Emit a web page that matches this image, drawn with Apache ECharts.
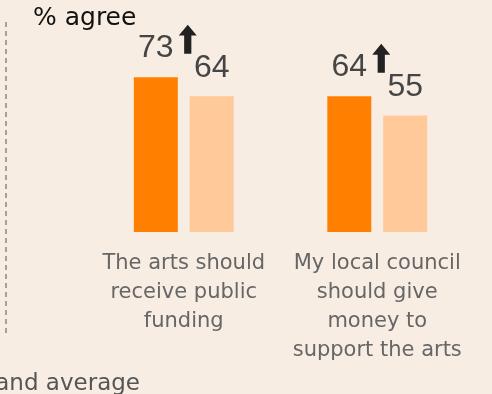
<!DOCTYPE html>
<html>
<head>
<meta charset="utf-8">
<script src="https://cdn.jsdelivr.net/npm/echarts@6/dist/echarts.min.js"></script>
<style>
  html, body { margin: 0; padding: 0; background: #f8ede3; }
  #chart { width: 492px; height: 394px; }
</style>
</head>
<body>
<div id="chart"></div>
<script>
// 数据
const categories = [
  'The arts should\nreceive public\nfunding',
  'My local council\nshould give\nmoney to\nsupport the arts'
];
const localValues = [73, 64];
const averageValues = [64, 55];
const significantUp = [true, true];

const FONT = 'DejaVu Sans';
const NUM_FONT = 'Liberation Sans';

const myChart = echarts.init(document.getElementById('chart'));

const arrowPath = 'path://M5,0 L10,6 L7,6 L7,16 L3,16 L3,6 L0,6 Z';

const option = {
  backgroundColor: '#f8ede3',
  animation: false,
  grid: { left: 87, right: 18, top: 20, bottom: 162 },
  graphic: [
    {
      type: 'line',
      shape: { x1: 6, y1: 22, x2: 6, y2: 335 },
      style: { stroke: '#a2a2a2', lineWidth: 2, lineDash: [5, 4] }
    },
    {
      type: 'text',
      left: 33, top: 6,
      style: { text: '% agree', font: '25px ' + FONT, fill: '#111111' }
    },
    {
      type: 'text',
      right: 352, top: 373,
      style: { text: 'England average', font: '23px ' + FONT, fill: '#555555' }
    }
  ],
  xAxis: {
    type: 'category',
    data: categories,
    axisLine: { show: false },
    axisTick: { show: false },
    axisLabel: {
      interval: 0,
      margin: 17,
      fontFamily: FONT,
      fontSize: 21,
      lineHeight: 29,
      color: '#666666',
      align: 'center'
    }
  },
  yAxis: {
    type: 'value',
    min: 0, max: 100,
    show: false,
    splitLine: { show: false }
  },
  series: [
    {
      type: 'bar',
      data: localValues,
      barWidth: 44,
      barGap: '27%',
      itemStyle: { color: '#ff8000' },
      label: {
        show: true, position: 'top', distance: 13,
        fontFamily: NUM_FONT, fontSize: 32, color: '#454545'
      }
    },
    {
      type: 'bar',
      data: averageValues,
      barWidth: 44,
      itemStyle: { color: '#ffc999' },
      label: {
        show: true, position: 'top', distance: 12,
        fontFamily: NUM_FONT, fontSize: 32, color: '#454545'
      }
    },
    {
      type: 'scatter',
      data: localValues.map((v, i) => significantUp[i] ? [i, v] : null).filter(Boolean),
      symbol: arrowPath,
      symbolSize: [18, 29],
      symbolOffset: [4, -38],
      itemStyle: { color: '#222222', opacity: 1 },
      z: 5
    }
  ]
};

myChart.setOption(option);
window.addEventListener('resize', myChart.resize);
</script>
</body>
</html>
